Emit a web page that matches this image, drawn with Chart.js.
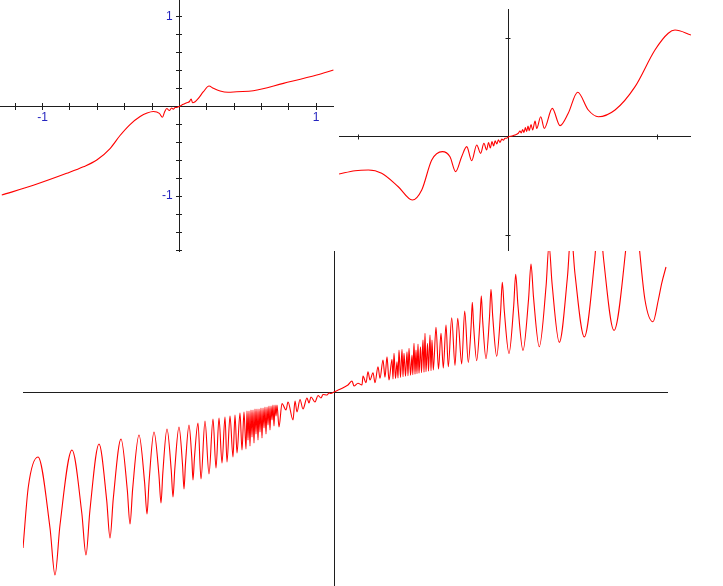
<!DOCTYPE html>
<html><head><meta charset="utf-8">
<script src="https://cdn.jsdelivr.net/npm/chart.js@4.4.1/dist/chart.umd.min.js"></script>
<style>
html,body{margin:0;padding:0;background:#fff;width:723px;height:586px;overflow:hidden}
.box{position:absolute}
canvas{display:block}
</style></head><body>
<div class="box" style="left:23px;top:251px;width:645px;height:335px"><canvas id="cB" width="645" height="335"></canvas></div>
<div class="box" style="left:0px;top:0px;width:334px;height:252px"><canvas id="cTL" width="334" height="252"></canvas></div>
<div class="box" style="left:339px;top:9px;width:352px;height:242px"><canvas id="cTR" width="352" height="242"></canvas></div>
<script>
// ---------- top-left plot ----------
const tlX = [-1.299,-1.068,-0.824,-0.702,-0.604,-0.507,-0.434,-0.361,-0.287,-0.236,-0.190,-0.146,-0.124,-0.108,-0.092,-0.073,-0.057,-0.044,-0.031,-0.019,0,0.029,0.054,0.073,0.086,0.097,0.115,0.139,0.176,0.217,0.249,0.298,0.356,0.420,0.541,0.761,1.005,1.127];
const tlY = [-0.988,-0.879,-0.746,-0.673,-0.598,-0.470,-0.325,-0.203,-0.114,-0.075,-0.058,-0.078,-0.122,-0.063,-0.024,-0.047,-0.019,-0.033,-0.013,-0.013,0,0.022,0.040,0.051,0.081,0.040,0.051,0.089,0.163,0.226,0.200,0.170,0.156,0.163,0.174,0.256,0.349,0.404];
const tlXTicks = [-1.2,-1,-0.8,-0.6,-0.4,-0.2,0,0.2,0.4,0.6,0.8,1];
const tlYTicks = [-1.6,-1.4,-1.2,-1,-0.8,-0.6,-0.4,-0.2,0,0.2,0.4,0.6,0.8,1];
const tlXLabelVals = [-1, 1];
const tlXLabels = ['-1', '1'];
const tlYLabelVals = [-1, 1];
const tlYLabels = ['-1', '1'];

// ---------- top-right plot ----------
const trX = [-1.132,-1.025,-0.936,-0.847,-0.736,-0.642,-0.579,-0.512,-0.441,-0.390,-0.352,-0.312,-0.278,-0.245,-0.211,-0.185,-0.163,-0.145,-0.132,-0.120,-0.109,-0.098,-0.088,-0.077,-0.066,-0.056,-0.043,-0.033,-0.022,-0.012,0,0.023,0.045,0.067,0.078,0.087,0.096,0.105,0.114,0.123,0.132,0.140,0.152,0.163,0.179,0.190,0.217,0.241,0.294,0.346,0.401,0.464,0.535,0.602,0.714,0.848,0.981,1.070,1.115,1.222];
const trY = [-0.376,-0.342,-0.335,-0.369,-0.505,-0.640,-0.538,-0.234,-0.149,-0.200,-0.352,-0.200,-0.098,-0.241,-0.081,-0.166,-0.064,-0.132,-0.056,-0.112,-0.046,-0.091,-0.039,-0.071,-0.028,-0.055,-0.022,-0.033,-0.012,-0.012,0,0.010,0.020,0.038,0.061,0.041,0.076,0.046,0.096,0.056,0.112,0.064,0.127,0.071,0.162,0.086,0.206,0.088,0.291,0.115,0.241,0.454,0.274,0.206,0.274,0.511,0.883,1.053,1.086,1.036];
const trXTicks = [-1, 1];
const trYTicks = [-1, 1];

// ---------- bottom plot ----------
const btX = [-311,-305.7,-296,-284,-279,-274,-262,-252.2,-248,-244.1,-235,-227.3,-224,-220.7,-213,-206.7,-204,-201.3,-195,-189.4,-187,-184.9,-180,-175.1,-173,-171.2,-167,-162.8,-161,-159.2,-155,-151.5,-150,-148.5,-145,-142.2,-141,-139.5,-136,-133,-129,-125,-121,-118,-115,-112,-109,-107,-104,-101,-99,-97,-94,-92,-90,
 -88,-87,-86,-85,-84,-83,-82,-81,-80,-79,-78,-77,-76,-75,-74,-73,-72,-71,-70,-69,-68,-67,-66,-65,-64,-63,-62,-61,-60,-59,-58,-57,-55,-52,
 -48,-46,-41,-39,-37,-34,-31,-27,-25,-23,-19,-16,-13,-11,-7,-5,-3,0,
 6,11,14,18,20,24,28,29,32,34,36,39,41,44,46,49,51,53,55,
 58,59,60,61.5,63,64,65,66.5,68,69,70,71.5,73,74,75,76.5,78,78.8,80,81,82,83,84,85,86.5,87.5,89,90,91,92,93.5,94.5,96,97,98,99.3,102,104.5,107,109.3,112,114.3,117.7,121,123.7,127.7,130.7,
 134.3,137.1,138.3,139.6,142.7,145.9,147.3,148.7,152,155.5,157,158.7,162.7,166.6,168.3,170.3,175,179.7,181.7,183.9,189,194.6,197,199.5,205.3,212.1,215,218.1,225.3,233.5,237,241,250.3,260.6,265,269.5,280,292.6,298,304.3,311,319,324.3,327.7,332];
const btY = [-156,-95,-65,-136,-183,-133,-58,-121,-163,-118.6,-52,-108.4,-146,-106.4,-47,-98,-132,-96.4,-43,-90.4,-122,-89.2,-40,-82.6,-111,-81.4,-37,-77.8,-105,-77,-35,-72.2,-97,-71.4,-33,-66,-88,-65.2,-31,-87,-29,-82,-27,-76,-26,-71,-25,-70,-24,-65,-23,-61,-21,-58,-20,
 -57,-19,-48,-19,-54,-18,-45,-18,-51,-17,-42,-17,-48,-17,-40,-16,-46,-16,-36,-15,-42,-15,-33,-14,-38,-14,-28,-13,-34,-13,-24,-13,-35,-11.5,
 -18,-10,-28,-9,-20,-7.5,-17,-6,-11,-5,-10,-3.5,-6,-2.5,-3,-1,-1.5,0,
 2.7,5.3,7,11,6,8.7,7,16,9.3,20.3,12,19.3,9.3,25.3,13.7,32,14.7,35.3,12,
 32.7,13,38.7,13.5,30.3,14,42,14.6,42.7,15.2,38.7,15.7,40.3,16.3,43.7,16.8,37,17.3,48.7,17.8,42,18.3,48,18.7,45.3,19.3,52,19.8,58.7,20.2,48.7,20.8,57,21.3,52,22,64.7,23,58.7,24,67,25.2,74.3,26.6,73.7,28.1,81,
 29.6,65.7,89.7,66.6,31.4,70.3,96.3,71.1,33.4,75,102.7,75.9,35.8,80.1,109.7,81.2,38.5,86,117.7,87.2,41.6,93.4,128,94.9,45.2,106.3,147,108,49.6,115.8,160,118,55.1,131.2,182,133.8,61.6,150.6,210,154,92,70.2,92,108.7,125];

const AXIS = '#1e1e1e';
const CURVE = '#ff0000';
const LABEL = '#2424bf';
const FONT = {family: "'Liberation Sans', Arial, sans-serif", size: 12};

function zeroPad(s){ s.paddingLeft = 0; s.paddingRight = 0; s.paddingTop = 0; s.paddingBottom = 0; }

function tickAxis(axis, min, max, ticks, len, pos, border){
  return {
    type: 'linear', axis, min, max, bounds: 'data', position: pos,
    border: {display: border, color: AXIS, width: 1},
    grid: {display: ticks.length > 0, drawOnChartArea: false, drawTicks: true, tickLength: len, color: AXIS, lineWidth: 1},
    ticks: {display: false},
    afterBuildTicks: s => { s.ticks = (ticks.length ? ticks : [0]).map(v => ({value: v})); },
    afterFit: zeroPad
  };
}
function labelAxis(axis, min, max, vals, labels, pos, padding){
  return {
    type: 'linear', axis, min, max, bounds: 'data', position: pos,
    border: {display: false},
    grid: {display: false, drawTicks: false, tickLength: 0},
    ticks: {display: true, color: LABEL, font: FONT, padding, autoSkip: false, maxRotation: 0, minRotation: 0,
            callback: (v, i) => labels[i]},
    afterBuildTicks: s => { s.ticks = vals.map(v => ({value: v})); },
    afterFit: zeroPad
  };
}
function pts(xs, ys){ return xs.map((x, i) => ({x, y: ys[i]})); }
function makeChart(id, xs, ys, scales){
  new Chart(document.getElementById(id), {
    type: 'scatter',
    data: {datasets: [{data: pts(xs, ys), showLine: true, borderColor: CURVE, borderWidth: 1.1,
      pointRadius: 0, pointHoverRadius: 0, fill: false, cubicInterpolationMode: 'monotone',
      xAxisID: 'x', yAxisID: 'y'}]},
    options: {
      responsive: false, animation: false, devicePixelRatio: 1, events: [],
      layout: {padding: 0},
      plugins: {legend: {display: false}, tooltip: {enabled: false}, title: {display: false}},
      scales
    }
  });
}

// top-left ranges
const tlXmin = -1.312, tlXmax = 1.1313, tlYmin = -1.622, tlYmax = 1.184;
makeChart('cTL', tlX, tlY, {
  x: tickAxis('x', tlXmin, tlXmax, tlXTicks, 3, {y: 0}, true),
  y: tickAxis('y', tlYmin, tlYmax, tlYTicks, 3, {x: 0}, true),
  x2: tickAxis('x', tlXmin, tlXmax, tlXTicks, -3, {y: 0}, false),
  y2: tickAxis('y', tlYmin, tlYmax, tlYTicks, -3, {x: 0}, false),
  xl: labelAxis('x', tlXmin, tlXmax, tlXLabelVals, tlXLabels, {y: 0}, 4),
  yl: labelAxis('y', tlYmin, tlYmax, tlYLabelVals, tlYLabels, {x: -0.048}, 0)
});

// top-right ranges
const trXmin = -1.1324, trXmax = 1.2221, trYmin = -1.1574, trYmax = 1.2995;
makeChart('cTR', trX, trY, {
  x: tickAxis('x', trXmin, trXmax, trXTicks, 2.5, {y: 0}, true),
  y: tickAxis('y', trYmin, trYmax, trYTicks, 2.5, {x: 0}, true),
  x2: tickAxis('x', trXmin, trXmax, trXTicks, -2.5, {y: 0}, false),
  y2: tickAxis('y', trYmin, trYmax, trYTicks, -2.5, {x: 0}, false)
});

// bottom ranges
makeChart('cB', btX, btY, {
  x: tickAxis('x', -311, 334, [], 0, {y: 0}, true),
  y: tickAxis('y', -194, 141, [], 0, {x: 0}, true)
});
</script>
</body></html>
